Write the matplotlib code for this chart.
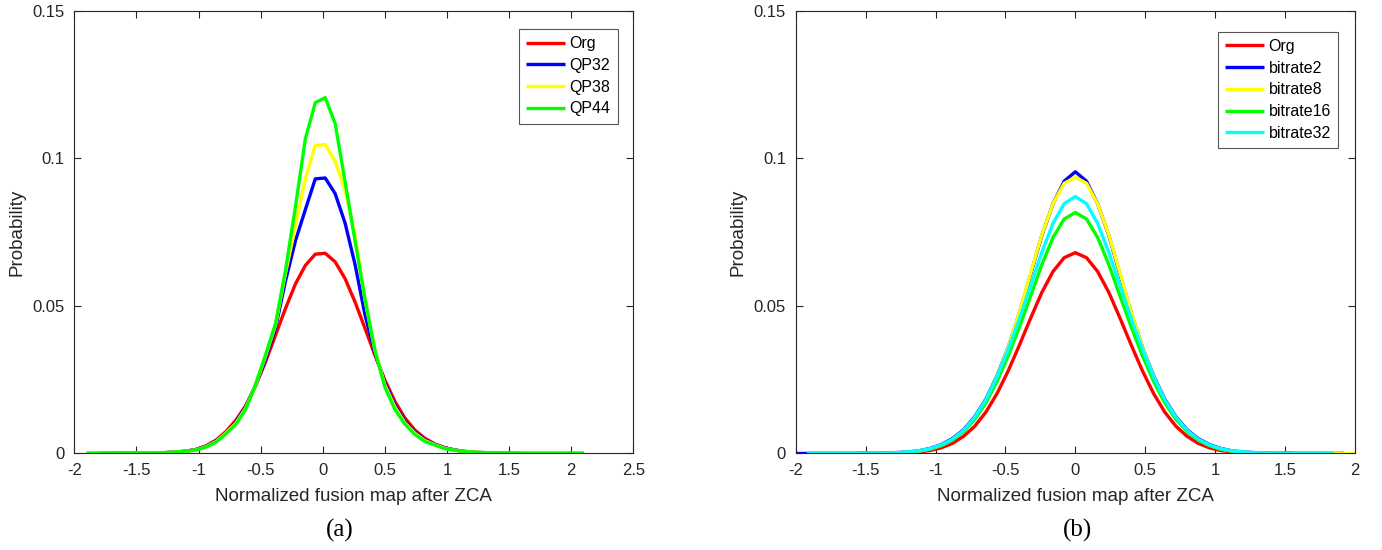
import numpy as np
import matplotlib
matplotlib.use("Agg")
import matplotlib.pyplot as plt

plt.rcParams['font.family'] = ['Liberation Sans', 'DejaVu Sans']
nan = np.nan

# ---- panel (a): bin centres and probabilities
xa = np.linspace(-1.90, 2.10, 51)

org_a = [0, 0, 0, 0.0001, 0.0001, 0.0001, 0.0001, 0.0002, 0.0003, 0.0005,
         0.0008, 0.0014, 0.0026, 0.0045, 0.0074, 0.0112, 0.0162, 0.0230, 0.0311, 0.0401,
         0.0491, 0.0574, 0.0637, 0.0675, 0.0678, 0.0649, 0.0592, 0.0513, 0.0424, 0.0333,
         0.0249, 0.0177, 0.0121, 0.0080, 0.0052, 0.0033, 0.0020, 0.0012, 0.0007, 0.0004,
         0.0002, 0.0001, 0.0001, 0, 0, 0, 0, 0, 0, 0, 0]
qp32 = [0, 0, 0.0001, 0.0001, 0.0001, 0.0001, 0.0002, 0.0002, 0.0003, 0.0005,
        0.0008, 0.0013, 0.0024, 0.0042, 0.0070, 0.0106, 0.0158, 0.0232, 0.0320, 0.0425,
        0.0584, 0.0720, 0.0826, 0.0930, 0.0933, 0.0880, 0.0780, 0.0640, 0.0470, 0.0340,
        0.0240, 0.0165, 0.0110, 0.0073, 0.0047, 0.0031, 0.0019, 0.0012, 0.0007, 0.0004,
        0.0003, 0.0002, 0.0001, 0.0001, 0, 0, 0, 0, 0, 0, 0]
qp38 = [0, 0, 0.0001, 0.0001, 0.0001, 0.0001, 0.0002, 0.0002, 0.0003, 0.0005,
        0.0008, 0.0012, 0.0023, 0.0040, 0.0069, 0.0102, 0.0154, 0.0233, 0.0330, 0.0435,
        0.0610, 0.0770, 0.0930, 0.1043, 0.1046, 0.0990, 0.0890, 0.0740, 0.0520, 0.0350,
        0.0232, 0.0158, 0.0104, 0.0069, 0.0044, 0.0030, 0.0018, 0.0011, 0.0007, 0.0004,
        0.0003, 0.0002, 0.0001, 0.0001, 0, 0, 0, 0, 0, 0, 0]
qp44 = [0, 0, 0.0001, 0.0001, 0.0001, 0.0001, 0.0002, 0.0002, 0.0003, 0.0005,
        0.0008, 0.0012, 0.0022, 0.0038, 0.0066, 0.0098, 0.0150, 0.0235, 0.0335, 0.0440,
        0.0620, 0.0835, 0.1066, 0.1188, 0.1205, 0.1117, 0.0920, 0.0720, 0.0525, 0.0350,
        0.0225, 0.0150, 0.0100, 0.0065, 0.0041, 0.0029, 0.0017, 0.0011, 0.0007, 0.0004,
        0.0003, 0.0002, 0.0001, 0.0001, 0, 0, 0, 0, 0, 0, 0]

# ---- panel (b)
xb = np.linspace(-2.0, 2.0, 51)

org_b = [nan, 0, 0, 0, 0, 0, 0, 0, 0.0001, 0.0001,
         0.0002, 0.0005, 0.0010, 0.0019, 0.0034, 0.0058, 0.0092, 0.0140, 0.0203, 0.0280,
         0.0367, 0.0458, 0.0545, 0.0616, 0.0663, 0.0680, 0.0663, 0.0616, 0.0545, 0.0458,
         0.0367, 0.0280, 0.0203, 0.0140, 0.0092, 0.0058, 0.0034, 0.0019, 0.0010, 0.0005,
         0.0002, 0.0001, 0.0001, 0, 0, 0, 0, 0, 0, 0, nan]
bitrate2 = [0, 0, 0, 0, 0, 0, 0.0001, 0.0001, 0.0002, 0.0003,
            0.0005, 0.0009, 0.0017, 0.0030, 0.0050, 0.0080, 0.0124, 0.0184, 0.0263, 0.0360,
            0.0476, 0.0606, 0.0738, 0.0845, 0.0922, 0.0954, 0.0922, 0.0845, 0.0738, 0.0606,
            0.0476, 0.0360, 0.0263, 0.0184, 0.0124, 0.0080, 0.0050, 0.0030, 0.0017, 0.0009,
            0.0005, 0.0003, 0.0002, 0.0001, 0.0001, 0, 0, 0, 0, 0, nan]
bitrate8 = [nan, nan, 0, 0, 0, 0, 0, 0.0001, 0.0001, 0.0002,
            0.0004, 0.0008, 0.0015, 0.0027, 0.0046, 0.0076, 0.0120, 0.0180, 0.0260, 0.0360,
            0.0478, 0.0610, 0.0740, 0.0845, 0.0915, 0.0935, 0.0915, 0.0845, 0.0740, 0.0610,
            0.0478, 0.0360, 0.0260, 0.0180, 0.0120, 0.0076, 0.0046, 0.0027, 0.0015, 0.0008,
            0.0004, 0.0002, 0.0001, 0.0001, 0, 0, 0, 0, 0, 0, 0]
bitrate16 = [nan, nan, 0, 0, 0, 0, 0, 0.0001, 0.0001, 0.0002,
             0.0004, 0.0008, 0.0015, 0.0027, 0.0045, 0.0074, 0.0115, 0.0171, 0.0244, 0.0331,
             0.0428, 0.0533, 0.0639, 0.0731, 0.0794, 0.0816, 0.0794, 0.0731, 0.0639, 0.0533,
             0.0428, 0.0331, 0.0244, 0.0171, 0.0115, 0.0074, 0.0045, 0.0027, 0.0015, 0.0008,
             0.0004, 0.0002, 0.0001, 0.0001, 0, 0, 0, 0, 0, nan, nan]
bitrate32 = [nan, 0, 0, 0, 0, 0, 0, 0.0001, 0.0001, 0.0002,
             0.0005, 0.0009, 0.0016, 0.0029, 0.0048, 0.0078, 0.0122, 0.0182, 0.0260, 0.0353,
             0.0456, 0.0568, 0.0681, 0.0779, 0.0846, 0.0870, 0.0846, 0.0779, 0.0681, 0.0568,
             0.0456, 0.0353, 0.0260, 0.0182, 0.0122, 0.0078, 0.0048, 0.0029, 0.0016, 0.0009,
             0.0005, 0.0002, 0.0001, 0.0001, 0, 0, 0, 0, 0, nan, nan]

series_a = [("Org", org_a, "#ff0000"), ("QP32", qp32, "#0000ff"),
            ("QP38", qp38, "#ffff00"), ("QP44", qp44, "#00ff00")]
series_b = [("Org", org_b, "#ff0000"), ("bitrate2", bitrate2, "#0000ff"),
            ("bitrate8", bitrate8, "#ffff00"), ("bitrate16", bitrate16, "#00ff00"),
            ("bitrate32", bitrate32, "#00ffff")]

xticks_a = [-2, -1.5, -1, -0.5, 0, 0.5, 1, 1.5, 2, 2.5]
xticks_b = [-2, -1.5, -1, -0.5, 0, 0.5, 1, 1.5, 2]
yticks = [0, 0.05, 0.1, 0.15]
ytick_labels = ["0", "0.05", "0.1", "0.15"]

gray = "#262626"

fig = plt.figure(figsize=(13.82, 5.5), dpi=100)
ax1 = fig.add_axes([0.0538, 0.1755, 0.4044, 0.8053])
ax2 = fig.add_axes([0.5758, 0.1755, 0.4046, 0.8053])


def style(ax, x, series, xticks, xlim, legpos):
    for name, y, c in series:
        ax.plot(x, y, color=c, lw=2.4, label=name, solid_capstyle='butt')
    ax.set_xlim(*xlim)
    ax.set_ylim(0, 0.15)
    ax.set_xticks(xticks)
    ax.set_xticklabels([("%g" % t) for t in xticks])
    ax.set_yticks(yticks)
    ax.set_yticklabels(ytick_labels)
    ax.tick_params(direction='in', top=True, right=True, length=5, width=0.8,
                   labelsize=12, colors=gray, pad=7)
    for s in ax.spines.values():
        s.set_color(gray)
        s.set_linewidth(0.8)
    ax.set_xlabel("Normalized fusion map after ZCA", fontsize=13.5, color=gray, labelpad=7)
    ax.set_ylabel("Probability", fontsize=13.5, color=gray, labelpad=5)
    leg = ax.legend(loc='upper right', bbox_to_anchor=legpos, borderaxespad=0,
                    fontsize=11.5, fancybox=False, framealpha=1, edgecolor="#555555",
                    handlelength=2.4, handletextpad=0.3, labelspacing=0.42,
                    borderpad=0.45)
    leg.get_frame().set_linewidth(0.8)


style(ax1, xa, series_a, xticks_a, (-2, 2.5), (0.972, 0.958))
style(ax2, xb, series_b, xticks_b, (-2, 2), (0.970, 0.952))

fig.text(340 / 1382, 1 - 530 / 550, "(a)", family='Liberation Serif', fontsize=18,
         ha='center', va='center')
fig.text(1078 / 1382, 1 - 530 / 550, "(b)", family='Liberation Serif', fontsize=18,
         ha='center', va='center')

fig.savefig("out.png", dpi=100)
